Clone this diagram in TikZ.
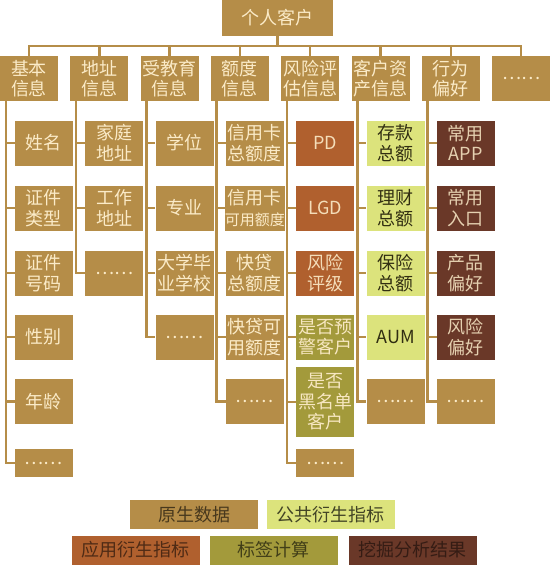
\documentclass[tikz,border=0pt]{standalone}
\usepackage{fontspec}
\setmainfont{Noto Sans CJK SC}

\definecolor{gold}{HTML}{B58D48}
\definecolor{lime}{HTML}{DCE37C}
\definecolor{rust}{HTML}{B0602E}
\definecolor{olive}{HTML}{A39A3B}
\definecolor{umber}{HTML}{6A3828}
\definecolor{cream}{HTML}{FBEBC8}

\tikzset{
  box/.style={fill=gold, text=cream, inner sep=0pt, align=center,
    minimum width=58pt, minimum height=45pt, font=\fontsize{18}{20.5}\selectfont},
  pub/.style={box, fill=lime, text=black!70!olive},
  app/.style={box, fill=rust, text=cream!90!rust},
  tag/.style={box, fill=olive, text=cream!95!olive},
  mine/.style={box, fill=umber, text=cream!85!umber},
  more/.style={box, minimum height=28pt},
  key/.style={inner sep=0pt, minimum width=128pt, minimum height=29pt,
    font=\fontsize{18}{20}\selectfont},
  link/.style={draw=gold, line width=2.5pt}
}

\begin{document}
\begin{tikzpicture}[x=1pt,y=1pt]
  \useasboundingbox (0,0) rectangle (550,-566);
  % root and categories
  \node[box, minimum width=111pt, minimum height=36pt, font=\fontsize{18}{20}\selectfont] (root) at (277.5,-18) {个人客户};
  \coordinate (bus) at (0,-46);
  \node[box] (c1) at (29,-78.5) {基本\\信息};
  \node[box] (c2) at (99.3,-78.5) {地址\\信息};
  \node[box] (c3) at (169.6,-78.5) {受教育\\信息};
  \node[box] (c4) at (239.9,-78.5) {额度\\信息};
  \node[box] (c5) at (310.2,-78.5) {风险评\\估信息};
  \node[box] (c6) at (380.5,-78.5) {客户资\\产信息};
  \node[box] (c7) at (450.8,-78.5) {行为\\偏好};
  \node[box] (c8) at (521.1,-78.5) {……};
  % basic info
  \node[box] (b11) at (44,-143) {姓名};
  \node[box] (b12) at (44,-208) {证件\\类型};
  \node[box] (b13) at (44,-273) {证件\\号码};
  \node[box] (b14) at (44,-337) {性别};
  \node[box] (b15) at (44,-401.5) {年龄};
  \node[more] (b16) at (44,-463) {……};
  % address
  \node[box] (b21) at (114.3,-143) {家庭\\地址};
  \node[box] (b22) at (114.3,-208) {工作\\地址};
  \node[box] (b23) at (114.3,-273) {……};
  % education
  \node[box] (b31) at (184.6,-143) {学位};
  \node[box] (b32) at (184.6,-208) {专业};
  \node[box] (b33) at (184.6,-273) {大学毕\\业学校};
  \node[box] (b34) at (184.6,-337) {……};
  % credit limits
  \node[box] (b41) at (254.9,-143) {信用卡\\总额度};
  \node[box] (b42) at (254.9,-208) {信用卡\\{\fontsize{15}{20}\selectfont 可用额度}};
  \node[box] (b43) at (254.9,-273) {快贷\\总额度};
  \node[box] (b44) at (254.9,-337) {快贷可\\用额度};
  \node[box] (b45) at (254.9,-401.5) {……};
  % risk
  \node[app] (b51) at (325.2,-143) {PD};
  \node[app] (b52) at (325.2,-208) {LGD};
  \node[app] (b53) at (325.2,-273) {风险\\评级};
  \node[tag] (b54) at (325.2,-337) {是否预\\警客户};
  \node[tag, minimum height=70pt] (b55) at (325.2,-402) {是否\\黑名单\\客户};
  \node[more] (b56) at (325.2,-463) {……};
  % assets
  \node[pub] (b61) at (395.5,-143) {存款\\总额};
  \node[pub] (b62) at (395.5,-208) {理财\\总额};
  \node[pub] (b63) at (395.5,-273) {保险\\总额};
  \node[pub] (b64) at (395.5,-337) {AUM};
  \node[box] (b65) at (395.5,-401.5) {……};
  % behaviour
  \node[mine] (b71) at (465.8,-143) {常用\\APP};
  \node[mine] (b72) at (465.8,-208) {常用\\入口};
  \node[mine] (b73) at (465.8,-273) {产品\\偏好};
  \node[mine] (b74) at (465.8,-337) {风险\\偏好};
  \node[box] (b75) at (465.8,-401.5) {……};

  % connectors
  \draw[link] (root.south) -- (root.south |- bus);
  \draw[link] (c1.north) -- (c1.north |- bus) -- (c8.north |- bus) -- (c8.north);
  \foreach \c in {2,...,7}
    \draw[link] (c\c.north |- bus) -- (c\c.north);
  \foreach \c/\last in {1/6,2/3,3/4,4/5,5/6,6/5,7/5} {
    \draw[link] ([xshift=6pt]c\c.south west) |- (b\c\last.west);
    \foreach \r in {1,...,\last}
      \draw[link] ([xshift=6pt]c\c.south west |- b\c\r.west) -- (b\c\r.west);
  }

  % legend
  \node[key, fill=gold, text=black!60!gold] (lraw) at (194,-514.5) {原生数据};
  \node[key, fill=lime, text=black!70!lime] (lpub) at (330.5,-514.5) {公共衍生指标};
  \node[key, fill=rust, text=black!55!rust] (lapp) at (135.5,-550) {应用衍生指标};
  \node[key, fill=olive, text=black!60!olive] (ltag) at (273.5,-550) {标签计算};
  \node[key, fill=umber, text=black!50!umber] (lmine) at (412.5,-550) {挖掘分析结果};
\end{tikzpicture}
\end{document}
